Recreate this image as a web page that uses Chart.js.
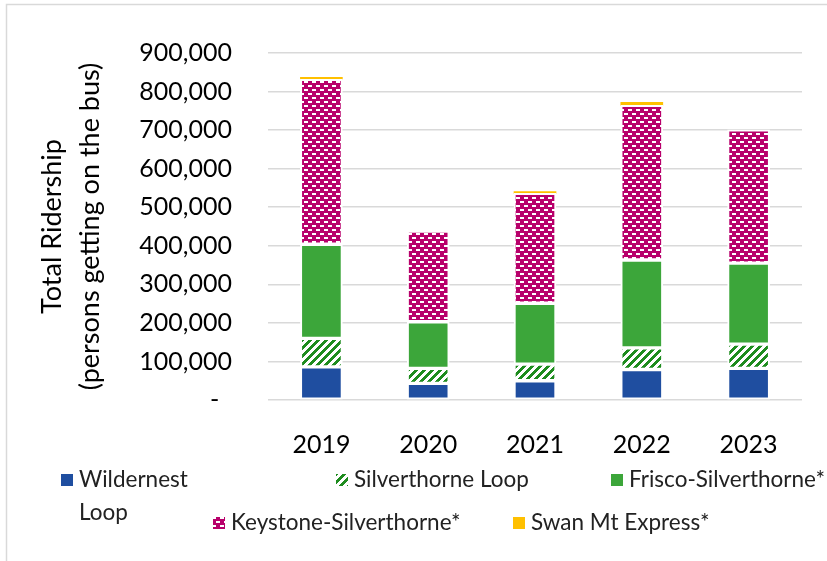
<!DOCTYPE html>
<html>
<head>
<meta charset="utf-8">
<title>Total Ridership</title>
<script src="https://cdn.jsdelivr.net/npm/chart.js@4.4.0/dist/chart.umd.min.js"></script>
<style>
    html, body { margin: 0; padding: 0; background: #fff; }
    #graficoRidership { display: block; }
</style>
</head>
<body>
<canvas id="graficoRidership" width="827" height="561"></canvas>
<script>
// Ridership per route, stacked bottom to top (null = route not running)
const anos = ['2019', '2020', '2021', '2022', '2023'];
const wildernestLoop = [86000, 43000, 50000, 79000, 82000];
const silverthorneLoop = [74000, 39000, 43000, 56000, 63000];
const friscoSilverthorne = [244000, 121000, 158000, 228000, 210000];
const keystoneSilverthorne = [428000, 235000, 285000, 401000, 346000];
const swanMtExpress = [5000, null, 4500, 8000, null];
const nomesRotas = ['Wildernest Loop', 'Silverthorne Loop', 'Frisco-Silverthorne*', 'Keystone-Silverthorne*', 'Swan Mt Express*'];
const tituloEixoY = ['Total Ridership', '(persons getting on the bus)'];

// legend slots: swatch left edge, row centre, optional wrap width
const posicoesLegenda = [
    { x: 61, y: 480, maxWidth: 130 },
    { x: 336, y: 480 },
    { x: 611, y: 480 },
    { x: 213, y: 523 },
    { x: 513, y: 523 }
];

const FONTE = 'Lato';

document.addEventListener("DOMContentLoaded", function () {
    renderChart();
});

function criarHachura(cor) {
    // wide upward diagonal stripes on white
    const c = document.createElement('canvas');
    c.width = 8;
    c.height = 8;
    const ctx = c.getContext('2d');
    ctx.fillStyle = '#ffffff';
    ctx.fillRect(0, 0, 8, 8);
    ctx.fillStyle = cor;
    for (let y = 0; y < 8; y++) {
        for (let x = 0; x < 8; x++) {
            if ((x + y) % 8 < 4) ctx.fillRect(x, y, 1, 1);
        }
    }
    return ctx.createPattern(c, 'repeat');
}

function criarTijolo(cor) {
    // staggered white dashes over a solid fill
    const c = document.createElement('canvas');
    c.width = 8;
    c.height = 8;
    const ctx = c.getContext('2d');
    ctx.fillStyle = cor;
    ctx.fillRect(0, 0, 8, 8);
    ctx.fillStyle = '#ffffff';
    ctx.fillRect(0, 1, 4, 2);
    ctx.fillRect(4, 5, 4, 2);
    return ctx.createPattern(c, 'repeat');
}

function quebrarTexto(ctx, texto, maxWidth) {
    if (!maxWidth || ctx.measureText(texto).width <= maxWidth) return [texto];
    const palavras = texto.split(' ');
    const linhas = [];
    let atual = '';
    palavras.forEach(p => {
        const teste = atual ? atual + ' ' + p : p;
        if (atual && ctx.measureText(teste).width > maxWidth) {
            linhas.push(atual);
            atual = p;
        } else {
            atual = teste;
        }
    });
    if (atual) linhas.push(atual);
    return linhas;
}

const molduraGrafico = {
    id: 'molduraGrafico',
    beforeDraw(chart) {
        const ctx = chart.ctx;
        ctx.save();
        ctx.strokeStyle = '#d9d9d9';
        ctx.lineWidth = 1.5;
        ctx.beginPath();
        ctx.moveTo(6.5, chart.height);
        ctx.lineTo(6.5, 4.5);
        ctx.lineTo(chart.width, 4.5);
        ctx.stroke();
        ctx.restore();
    }
};

const legendaRotas = {
    id: 'legendaRotas',
    afterDraw(chart) {
        const ctx = chart.ctx;
        ctx.save();
        ctx.font = '22.5px ' + FONTE;
        ctx.textBaseline = 'middle';
        ctx.textAlign = 'left';
        chart.data.datasets.forEach((ds, i) => {
            const pos = posicoesLegenda[i];
            ctx.fillStyle = ds.backgroundColor;
            ctx.fillRect(pos.x, pos.y - 6, 12, 12);
            ctx.fillStyle = '#222222';
            const linhas = quebrarTexto(ctx, ds.label, pos.maxWidth);
            linhas.forEach((linha, j) => {
                ctx.fillText(linha, pos.x + 18, pos.y + j * 33);
            });
        });
        ctx.restore();
    }
};

function renderChart() {
    const ctx = document.getElementById('graficoRidership').getContext('2d');

    const base = {
        borderColor: '#ffffff',
        borderWidth: 2,
        borderSkipped: false,
        barThickness: 42
    };

    new Chart(ctx, {
        type: 'bar',
        data: {
            labels: anos,
            datasets: [
                { ...base, label: nomesRotas[0], data: wildernestLoop, backgroundColor: '#1f4ea0' },
                { ...base, label: nomesRotas[1], data: silverthorneLoop, backgroundColor: criarHachura('#1e8c1e') },
                { ...base, label: nomesRotas[2], data: friscoSilverthorne, backgroundColor: '#3ca63a' },
                { ...base, label: nomesRotas[3], data: keystoneSilverthorne, backgroundColor: criarTijolo('#b8006b') },
                { ...base, label: nomesRotas[4], data: swanMtExpress, backgroundColor: '#ffc000', borderWidth: 0 }
            ]
        },
        options: {
            responsive: false,
            animation: false,
            layout: {
                padding: { top: 53, right: 25, bottom: 100, left: 0 }
            },
            plugins: {
                legend: { display: false },
                tooltip: { enabled: false }
            },
            scales: {
                x: {
                    stacked: true,
                    grid: { display: false },
                    border: { display: false },
                    ticks: {
                        color: '#000000',
                        padding: 22,
                        font: { family: FONTE, size: 25 }
                    },
                    afterFit(scale) {
                        scale.height = 61;
                    }
                },
                y: {
                    stacked: true,
                    min: 0,
                    max: 900000,
                    grid: {
                        color: '#d9d9d9',
                        lineWidth: 1.5,
                        drawTicks: false
                    },
                    border: { display: false },
                    ticks: {
                        stepSize: 100000,
                        color: '#000000',
                        padding: 36,
                        font: { family: FONTE, size: 25 },
                        callback: function (valor) {
                            return valor === 0 ? '-  ' : valor.toLocaleString('en-US');
                        }
                    },
                    title: {
                        display: true,
                        text: tituloEixoY,
                        color: '#000000',
                        padding: { top: 33, bottom: 0 },
                        font: { family: FONTE, size: 27, lineHeight: 1.41 }
                    },
                    afterFit(scale) {
                        scale.width = 268;
                    }
                }
            }
        },
        plugins: [molduraGrafico, legendaRotas]
    });
}
</script>
</body>
</html>
